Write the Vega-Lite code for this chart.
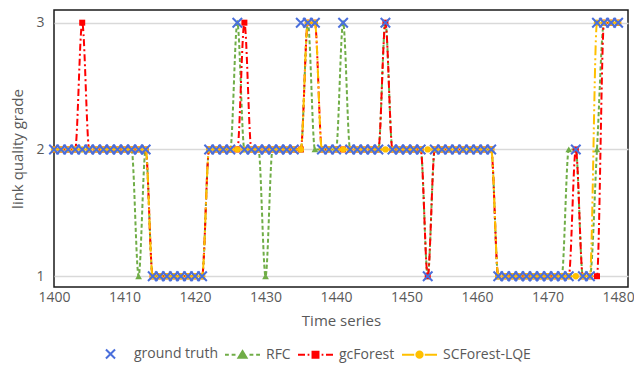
{
  "$schema": "https://vega.github.io/schema/vega-lite/v6.json",
  "width": 574,
  "height": 277,
  "autosize": "none",
  "padding": {"left": 54, "top": 10, "right": 6, "bottom": 83},
  "background": "white",
  "config": {
    "font": "Open Sans",
    "view": {"stroke": "#1a1a1a", "strokeWidth": 1.5}
  },
  "data": {
    "values": [
      {"t": 1400, "gt": 2, "rfc": 2, "gc": 2, "sc": 2},
      {"t": 1401, "gt": 2, "rfc": 2, "gc": 2, "sc": 2},
      {"t": 1402, "gt": 2, "rfc": 2, "gc": 2, "sc": 2},
      {"t": 1403, "gt": 2, "rfc": 2, "gc": 2, "sc": 2},
      {"t": 1404, "gt": 2, "rfc": 2, "gc": 3, "sc": 2},
      {"t": 1405, "gt": 2, "rfc": 2, "gc": 2, "sc": 2},
      {"t": 1406, "gt": 2, "rfc": 2, "gc": 2, "sc": 2},
      {"t": 1407, "gt": 2, "rfc": 2, "gc": 2, "sc": 2},
      {"t": 1408, "gt": 2, "rfc": 2, "gc": 2, "sc": 2},
      {"t": 1409, "gt": 2, "rfc": 2, "gc": 2, "sc": 2},
      {"t": 1410, "gt": 2, "rfc": 2, "gc": 2, "sc": 2},
      {"t": 1411, "gt": 2, "rfc": 2, "gc": 2, "sc": 2},
      {"t": 1412, "gt": 2, "rfc": 1, "gc": 2, "sc": 2},
      {"t": 1413, "gt": 2, "rfc": 2, "gc": 2, "sc": 2},
      {"t": 1414, "gt": 1, "rfc": 1, "gc": 1, "sc": 1},
      {"t": 1415, "gt": 1, "rfc": 1, "gc": 1, "sc": 1},
      {"t": 1416, "gt": 1, "rfc": 1, "gc": 1, "sc": 1},
      {"t": 1417, "gt": 1, "rfc": 1, "gc": 1, "sc": 1},
      {"t": 1418, "gt": 1, "rfc": 1, "gc": 1, "sc": 1},
      {"t": 1419, "gt": 1, "rfc": 1, "gc": 1, "sc": 1},
      {"t": 1420, "gt": 1, "rfc": 1, "gc": 1, "sc": 1},
      {"t": 1421, "gt": 1, "rfc": 1, "gc": 1, "sc": 1},
      {"t": 1422, "gt": 2, "rfc": 2, "gc": 2, "sc": 2},
      {"t": 1423, "gt": 2, "rfc": 2, "gc": 2, "sc": 2},
      {"t": 1424, "gt": 2, "rfc": 2, "gc": 2, "sc": 2},
      {"t": 1425, "gt": 2, "rfc": 2, "gc": 2, "sc": 2},
      {"t": 1426, "gt": 3, "rfc": 3, "gc": 2, "sc": 2},
      {"t": 1427, "gt": 2, "rfc": 2, "gc": 3, "sc": 2},
      {"t": 1428, "gt": 2, "rfc": 2, "gc": 2, "sc": 2},
      {"t": 1429, "gt": 2, "rfc": 2, "gc": 2, "sc": 2},
      {"t": 1430, "gt": 2, "rfc": 1, "gc": 2, "sc": 2},
      {"t": 1431, "gt": 2, "rfc": 2, "gc": 2, "sc": 2},
      {"t": 1432, "gt": 2, "rfc": 2, "gc": 2, "sc": 2},
      {"t": 1433, "gt": 2, "rfc": 2, "gc": 2, "sc": 2},
      {"t": 1434, "gt": 2, "rfc": 2, "gc": 2, "sc": 2},
      {"t": 1435, "gt": 3, "rfc": 2, "gc": 2, "sc": 2},
      {"t": 1436, "gt": 3, "rfc": 3, "gc": 3, "sc": 3},
      {"t": 1437, "gt": 3, "rfc": 2, "gc": 3, "sc": 3},
      {"t": 1438, "gt": 2, "rfc": 2, "gc": 2, "sc": 2},
      {"t": 1439, "gt": 2, "rfc": 2, "gc": 2, "sc": 2},
      {"t": 1440, "gt": 2, "rfc": 2, "gc": 2, "sc": 2},
      {"t": 1441, "gt": 3, "rfc": 3, "gc": 2, "sc": 2},
      {"t": 1442, "gt": 2, "rfc": 2, "gc": 2, "sc": 2},
      {"t": 1443, "gt": 2, "rfc": 2, "gc": 2, "sc": 2},
      {"t": 1444, "gt": 2, "rfc": 2, "gc": 2, "sc": 2},
      {"t": 1445, "gt": 2, "rfc": 2, "gc": 2, "sc": 2},
      {"t": 1446, "gt": 2, "rfc": 2, "gc": 2, "sc": 2},
      {"t": 1447, "gt": 3, "rfc": 3, "gc": 3, "sc": 2},
      {"t": 1448, "gt": 2, "rfc": 2, "gc": 2, "sc": 2},
      {"t": 1449, "gt": 2, "rfc": 2, "gc": 2, "sc": 2},
      {"t": 1450, "gt": 2, "rfc": 2, "gc": 2, "sc": 2},
      {"t": 1451, "gt": 2, "rfc": 2, "gc": 2, "sc": 2},
      {"t": 1452, "gt": 2, "rfc": 2, "gc": 2, "sc": 2},
      {"t": 1453, "gt": 1, "rfc": 1, "gc": 1, "sc": 2},
      {"t": 1454, "gt": 2, "rfc": 2, "gc": 2, "sc": 2},
      {"t": 1455, "gt": 2, "rfc": 2, "gc": 2, "sc": 2},
      {"t": 1456, "gt": 2, "rfc": 2, "gc": 2, "sc": 2},
      {"t": 1457, "gt": 2, "rfc": 2, "gc": 2, "sc": 2},
      {"t": 1458, "gt": 2, "rfc": 2, "gc": 2, "sc": 2},
      {"t": 1459, "gt": 2, "rfc": 2, "gc": 2, "sc": 2},
      {"t": 1460, "gt": 2, "rfc": 2, "gc": 2, "sc": 2},
      {"t": 1461, "gt": 2, "rfc": 2, "gc": 2, "sc": 2},
      {"t": 1462, "gt": 2, "rfc": 2, "gc": 2, "sc": 2},
      {"t": 1463, "gt": 1, "rfc": 1, "gc": 1, "sc": 1},
      {"t": 1464, "gt": 1, "rfc": 1, "gc": 1, "sc": 1},
      {"t": 1465, "gt": 1, "rfc": 1, "gc": 1, "sc": 1},
      {"t": 1466, "gt": 1, "rfc": 1, "gc": 1, "sc": 1},
      {"t": 1467, "gt": 1, "rfc": 1, "gc": 1, "sc": 1},
      {"t": 1468, "gt": 1, "rfc": 1, "gc": 1, "sc": 1},
      {"t": 1469, "gt": 1, "rfc": 1, "gc": 1, "sc": 1},
      {"t": 1470, "gt": 1, "rfc": 1, "gc": 1, "sc": 1},
      {"t": 1471, "gt": 1, "rfc": 1, "gc": 1, "sc": 1},
      {"t": 1472, "gt": 1, "rfc": 1, "gc": 1, "sc": 1},
      {"t": 1473, "gt": 1, "rfc": 2, "gc": 1, "sc": 1},
      {"t": 1474, "gt": 2, "rfc": 2, "gc": 2, "sc": 1},
      {"t": 1475, "gt": 1, "rfc": 1, "gc": 1, "sc": 1},
      {"t": 1476, "gt": 1, "rfc": 1, "gc": 1, "sc": 1},
      {"t": 1477, "gt": 3, "rfc": 2, "gc": 1, "sc": 3},
      {"t": 1478, "gt": 3, "rfc": 3, "gc": 3, "sc": 3},
      {"t": 1479, "gt": 3, "rfc": 3, "gc": 3, "sc": 3},
      {"t": 1480, "gt": 3, "rfc": 3, "gc": 3, "sc": 3}
    ]
  },
  "encoding": {
    "x": {
      "field": "t",
      "type": "quantitative",
      "scale": {"domain": [1400, 1481.4], "nice": false, "zero": false},
      "axis": {
        "values": [1400, 1410, 1420, 1430, 1440, 1450, 1460, 1470, 1480],
        "format": "d",
        "grid": false,
        "ticks": false,
        "domain": false,
        "labelFlush": false,
        "labelPadding": 3,
        "labelDx": 3,
        "labelFontSize": 14,
        "labelColor": "#595959",
        "title": "Time series",
        "titleFontSize": 15,
        "titleFontWeight": "normal",
        "titleColor": "#595959",
        "titlePadding": 9
      }
    }
  },
  "layer": [
    {
      "mark": {"type": "line", "interpolate": "monotone", "color": "#70AD47", "strokeWidth": 2, "strokeDash": [4, 2.5]},
      "encoding": {
        "y": {
          "field": "rfc",
          "type": "quantitative",
          "scale": {"domain": [0.915, 3.1], "nice": false, "zero": false},
          "axis": {
            "values": [1, 2, 3],
            "format": "d",
            "grid": true,
            "gridColor": "#d9d9d9",
            "gridWidth": 1.5,
            "ticks": false,
            "domain": false,
            "labelPadding": 10,
            "labelFontSize": 14,
            "labelColor": "#595959",
            "title": "link quality grade",
            "titleFontSize": 15,
            "titleFontWeight": "normal",
            "titleColor": "#595959",
            "titlePadding": 10
          }
        }
      }
    },
    {
      "mark": {"type": "point", "shape": "triangle-up", "filled": true, "color": "#70AD47", "size": 45, "opacity": 1},
      "encoding": {"y": {"field": "rfc", "type": "quantitative"}}
    },
    {
      "mark": {"type": "line", "interpolate": "monotone", "color": "#FF0000", "strokeWidth": 2, "strokeDash": [7, 3, 2, 3]},
      "encoding": {"y": {"field": "gc", "type": "quantitative"}}
    },
    {
      "mark": {"type": "point", "shape": "square", "filled": true, "color": "#FF0000", "size": 36, "opacity": 1},
      "encoding": {"y": {"field": "gc", "type": "quantitative"}}
    },
    {
      "mark": {"type": "line", "interpolate": "monotone", "color": "#FFC000", "strokeWidth": 2, "strokeDash": [10, 3, 2, 3, 2, 3]},
      "encoding": {"y": {"field": "sc", "type": "quantitative"}}
    },
    {
      "mark": {"type": "point", "shape": "circle", "filled": true, "color": "#FFC000", "size": 40, "opacity": 1},
      "encoding": {"y": {"field": "sc", "type": "quantitative"}}
    },
    {
      "mark": {"type": "point", "shape": "M-1,-1L1,1M1,-1L-1,1", "filled": false, "color": "#4a6fdc", "strokeWidth": 2, "size": 90, "opacity": 1},
      "encoding": {"y": {"field": "gt", "type": "quantitative"}}
    },
    {
      "data": {"values": [
        {"series": "ground truth"},
        {"series": "RFC"},
        {"series": "gcForest"},
        {"series": "SCForest-LQE"}
      ]},
      "transform": [{"filter": "false"}],
      "mark": {"type": "point", "filled": true, "strokeWidth": 2, "size": 1225, "opacity": 1},
      "encoding": {
        "x": {"value": 0},
        "fill": {
          "field": "series",
          "type": "nominal",
          "scale": {"domain": ["ground truth", "RFC", "gcForest", "SCForest-LQE"], "range": ["#4a6fdc", "#70AD47", "#FF0000", "#FFC000"]},
          "legend": {
            "title": null,
            "orient": "none",
            "legendX": 38,
            "legendY": 325,
            "direction": "horizontal",
            "columns": 4,
            "columnPadding": 3,
            "labelOffset": 5,
            "labelFontSize": 14,
            "labelColor": "#595959",
            "symbolSize": 1225,
            "symbolStrokeWidth": 2,
            "symbolOpacity": 1
          }
        },
        "stroke": {
          "field": "series",
          "type": "nominal",
          "scale": {"domain": ["ground truth", "RFC", "gcForest", "SCForest-LQE"], "range": ["#4a6fdc", "#70AD47", "#FF0000", "#FFC000"]}
        },
        "shape": {
          "field": "series",
          "type": "nominal",
          "scale": {
            "domain": ["ground truth", "RFC", "gcForest", "SCForest-LQE"],
            "range": [
              "M-0.26,-0.26L0.26,0.26M0.26,-0.26L-0.26,0.26",
              "M-1,0L-0.78,0M-0.62,0L-0.4,0M0.4,0L0.62,0M0.78,0L1,0M0,-0.21L0.23,0.17L-0.23,0.17Z",
              "M-1,0L-0.6,0M-0.45,0L-0.35,0M0.35,0L0.45,0M0.6,0L1,0M-0.17,-0.17L0.17,-0.17L0.17,0.17L-0.17,0.17Z",
              "M-1,0L-0.3,0M0.3,0L1,0M0.18,0A0.18,0.18 0 1,1 -0.18,0A0.18,0.18 0 1,1 0.18,0Z"
            ]
          }
        }
      }
    }
  ]
}
